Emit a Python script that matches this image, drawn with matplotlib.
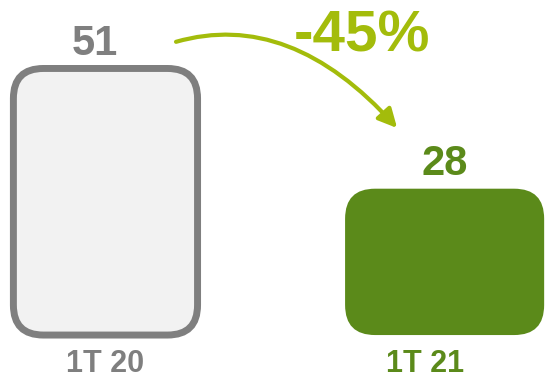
import matplotlib.pyplot as plt
from matplotlib.patches import FancyBboxPatch

plt.rcParams['font.family'] = ['Liberation Sans', 'DejaVu Sans']

categories = ['1T 20', '1T 21']
values = [51, 28]

GRAY = '#7f7f7f'
LIGHT = '#f2f2f2'
GREEN = '#5b8a1a'
LIME = '#a3bc0b'

fig = plt.figure(figsize=(5.45, 3.8), dpi=100)
ax = fig.add_axes([0, 0, 1, 1])
ax.set_xlim(-0.311, 1.296)
ax.set_ylim(-8.6, 64.1)
ax.axis('off')

bars = ax.bar([0, 1], values, width=[0.543, 0.587])

# swap the plain bars for rounded boxes of the same size
p0 = ax.transData.transform((0, 0))
p1 = ax.transData.transform((1, 1))
px_x = p1[0] - p0[0]
px_y = p1[1] - p0[1]
radius_px = 30
styles = [dict(facecolor=LIGHT, edgecolor=GRAY, linewidth=5),
          dict(facecolor=GREEN, edgecolor='none', linewidth=0)]
for bar, st in zip(bars, styles):
    x, y = bar.get_x(), bar.get_y()
    w, h = bar.get_width(), bar.get_height()
    bar.remove()
    box = FancyBboxPatch((x, y), w, h,
                         boxstyle='round,pad=0,rounding_size=%f' % (radius_px / px_x),
                         mutation_aspect=px_x / px_y, **st)
    ax.add_patch(box)

# value labels
label_colors = [GRAY, GREEN]
value_offsets = [-8, 0]
for i, v in enumerate(values):
    ax.annotate(str(v), xy=(i, v), xytext=(value_offsets[i], 9.5),
                textcoords='offset points', ha='center', va='baseline',
                fontsize=30, fontweight='bold', color=label_colors[i])

# category labels under the bars
cat_shift = [0.0, -0.057]
for i, c in enumerate(categories):
    ax.text(i + cat_shift[i], -8.5, c, ha='center', va='bottom',
            fontsize=22, fontweight='bold', color=label_colors[i])

# change arrow and percentage
change = (values[1] - values[0]) / values[0] * 100
ax.annotate('', xy=(0.86, 39.6), xytext=(0.208, 56.1),
            arrowprops=dict(arrowstyle='-|>',
                            connectionstyle='angle3,angleA=16,angleB=-48',
                            color=LIME, lw=3, mutation_scale=28,
                            shrinkA=0, shrinkB=0))
ax.text(0.757, 54.2, '%d%%' % round(change), ha='center', va='baseline',
        fontsize=42, fontweight='bold', color=LIME)

fig.savefig('out.png', dpi=100)
